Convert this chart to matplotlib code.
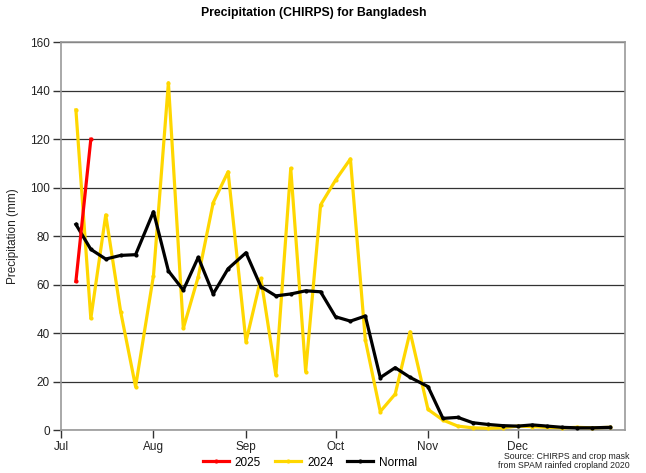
import matplotlib
matplotlib.use("Agg")
import matplotlib.pyplot as plt
import pandas as pd

plt.rcParams['font.family'] = ['Liberation Sans', 'DejaVu Sans']

# Pentad values (Jul 1 - Dec 31), plotted at end of each pentad
months = ["Jul", "Aug", "Sep", "Oct", "Nov", "Dec"]
val_2024 = [132, 46, 88.7, 48.8, 17.9, 63.7,
            143.2, 41.9, 63.2, 93.7, 106.5, 36.4,
            62.5, 22.7, 107.9, 24.1, 92.8, 103,
            111.8, 37.1, 7.6, 14.8, 40.5, 8.5,
            4.1, 1.6, 0.9, 0.7, 0.9, 1.6,
            1.4, 1.1, 0.9, 1.1, 0.9, 1.1]
val_normal = [84.8, 74.5, 70.5, 72.0, 72.3, 90.0,
              65.6, 57.7, 71.2, 56.1, 66.5, 73.1,
              59.1, 55.3, 56.1, 57.4, 57.0, 46.7,
              44.9, 47.0, 21.6, 25.7, 21.7, 17.9,
              4.8, 5.2, 3.0, 2.3, 1.8, 1.6,
              2.1, 1.6, 1.1, 0.9, 0.9, 1.1]
val_2025 = [61.3, 119.9]
y_ticks = [0, 20, 40, 60, 80, 100, 120, 140, 160]

# pentad end dates (start of next pentad)
def pentad_dates(n):
    out = []
    month_starts = pd.date_range("2024-07-01", periods=7, freq="MS")
    for i in range(n):
        m, p = divmod(i, 6)
        if p < 5:
            out.append(month_starts[m] + pd.Timedelta(days=5 * (p + 1)))
        else:
            out.append(month_starts[m + 1])
    return out

x_all = pentad_dates(len(val_2024))
x_2025 = pentad_dates(len(val_2025))

fig = plt.figure(figsize=(6.46, 4.73), dpi=100)
ax = fig.add_axes([0.0944, 0.0909, 0.873, 0.8203])

ax.set_axisbelow(True)
ax.yaxis.grid(True, color='#333333', linewidth=0.9)

ax.plot(x_all, val_2024, color='#FFD700', lw=2.3, marker='o', ms=2,
        label='2024', zorder=3, solid_joinstyle='round')
ax.plot(x_all, val_normal, color='black', lw=2.3, marker='o', ms=2,
        label='Normal', zorder=4, solid_joinstyle='round')
ax.plot(x_2025, val_2025, color='#FF0000', lw=2.3, marker='o', ms=2,
        label='2025', zorder=5, solid_joinstyle='round')

ax.set_ylim(0, 160)
ax.set_yticks(y_ticks)
ax.set_xlim(pd.Timestamp("2024-07-01"), pd.Timestamp("2025-01-06"))
ax.set_xticks(pd.date_range("2024-07-01", periods=6, freq="MS"))
ax.set_xticklabels(months)

for s in ax.spines.values():
    s.set_color('#999999')
    s.set_linewidth(1.2)
ax.tick_params(axis='both', direction='out', length=6, width=1,
               color='#333333', labelsize=8.5, labelcolor='#222222', pad=2)

ax.set_ylabel("Precipitation (mm)", fontsize=8.5, color='#222222', labelpad=8)

fig.text(0.485, 0.973, "Precipitation (CHIRPS) for Bangladesh",
         ha='center', va='center', fontsize=8.8, fontweight='bold')

handles, labels = ax.get_legend_handles_labels()
order = [labels.index('2025'), labels.index('2024'), labels.index('Normal')]
leg = fig.legend([handles[i] for i in order], [labels[i] for i in order],
                 loc='center', bbox_to_anchor=(0.48, 0.022), ncol=3,
                 frameon=False, fontsize=8.5, handlelength=2.2,
                 columnspacing=1.2, handletextpad=0.5)

fig.text(0.975, 0.026, "Source: CHIRPS and crop mask\nfrom SPAM rainfed cropland 2020",
         ha='right', va='center', fontsize=6.3, color='#222222', linespacing=1.0)

fig.savefig("out.png", dpi=100)
